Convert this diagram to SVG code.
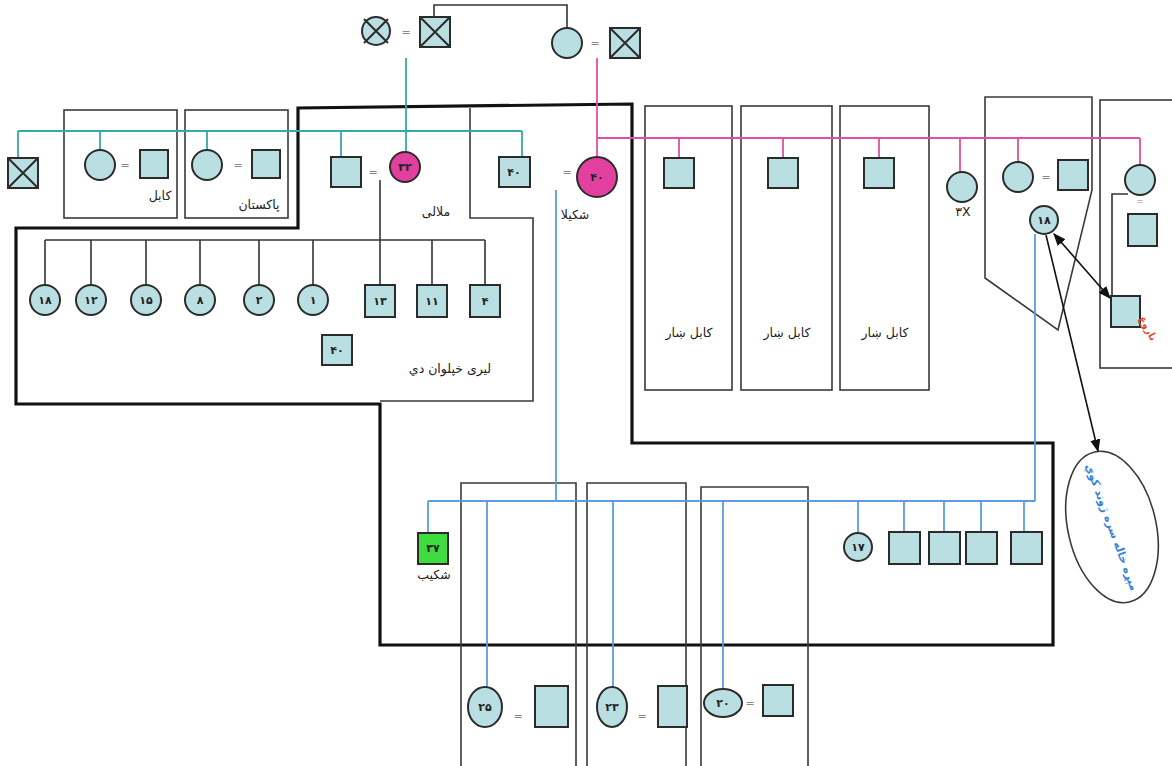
<svg xmlns="http://www.w3.org/2000/svg" width="1172" height="766" viewBox="0 0 1172 766">
<style>
.p{fill:#b9dfe3;stroke:#2b2b2b;stroke-width:2}
.pk{fill:#e2409f;stroke:#2b2b2b;stroke-width:2}
.gr{fill:#3fdc3f;stroke:#2b2b2b;stroke-width:2}
.x{stroke:#2b2b2b;stroke-width:2;fill:none}
.box{fill:none;stroke:#3a3a3a;stroke-width:1.6}
.heavy{fill:none;stroke:#111;stroke-width:3.2}
.teal{stroke:#35a9ad;stroke-width:1.8;fill:none}
.pink{stroke:#e0509f;stroke-width:1.8;fill:none}
.blue{stroke:#5b9de0;stroke-width:1.8;fill:none}
.dk{stroke:#333;stroke-width:1.6;fill:none}
.t{font-family:"DejaVu Sans",sans-serif;font-size:12.5px;fill:#222;text-anchor:middle}
.n{font-family:"DejaVu Sans",sans-serif;font-size:11px;fill:#222;text-anchor:middle;font-weight:bold}
.eq{font-family:"DejaVu Sans",sans-serif;font-size:11px;fill:#888;text-anchor:middle}
</style>
<defs>
<marker id="ah" viewBox="0 0 10 10" refX="9" refY="5" markerWidth="8" markerHeight="8" orient="auto-start-reverse"><path d="M0,1 L10,5 L0,9 z" fill="#111"/></marker>
</defs>

<g id="boundaries">
<polygon class="heavy" points="298,228 298,108 632,104 632,443 1053,443 1053,645 380,645 380,404 16,404 16,228"/>
<polyline class="box" points="470,108 470,218 533,218 533,401 380,401"/>
<rect class="box" x="64" y="110" width="113" height="108"/>
<rect class="box" x="185" y="110" width="103" height="108"/>
<rect class="box" x="645" y="106" width="87" height="284"/>
<rect class="box" x="741" y="106" width="91" height="284"/>
<rect class="box" x="840" y="106" width="89" height="284"/>
<polygon class="box" points="985,97 1092,97 1092,190 1058,330 985,278"/>
<rect class="box" x="1100" y="100" width="80" height="268"/>
<polyline class="box" points="461,766 461,483 576,483 576,766"/>
<polyline class="box" points="587,766 587,483 686,483 686,766"/>
<polyline class="box" points="701,766 701,487 808,487 808,766"/>
<ellipse class="box" cx="1112" cy="527" rx="44" ry="77" transform="rotate(-13 1112 527)"/>
</g>

<g id="connectors">
<polyline class="dk" points="434,17 434,5 567,5 567,28"/>
<line class="teal" x1="406" y1="58" x2="406" y2="152"/>
<line class="teal" x1="18" y1="131" x2="522" y2="131"/>
<line class="teal" x1="18" y1="131" x2="18" y2="158"/>
<line class="teal" x1="100" y1="131" x2="100" y2="150"/>
<line class="teal" x1="207" y1="131" x2="207" y2="150"/>
<line class="teal" x1="341" y1="131" x2="341" y2="157"/>
<line class="teal" x1="522" y1="131" x2="522" y2="157"/>
<line class="pink" x1="597" y1="58" x2="597" y2="157"/>
<line class="pink" x1="597" y1="138" x2="1140" y2="138"/>
<line class="pink" x1="679" y1="138" x2="679" y2="158"/>
<line class="pink" x1="783" y1="138" x2="783" y2="158"/>
<line class="pink" x1="879" y1="138" x2="879" y2="158"/>
<line class="pink" x1="960" y1="138" x2="960" y2="172"/>
<line class="pink" x1="1018" y1="138" x2="1018" y2="162"/>
<line class="pink" x1="1140" y1="138" x2="1140" y2="165"/>
<line class="dk" x1="380" y1="180" x2="380" y2="285"/>
<line class="dk" x1="45" y1="240" x2="485" y2="240"/>
<line class="dk" x1="45" y1="240" x2="45" y2="285"/>
<line class="dk" x1="91" y1="240" x2="91" y2="285"/>
<line class="dk" x1="146" y1="240" x2="146" y2="285"/>
<line class="dk" x1="200" y1="240" x2="200" y2="285"/>
<line class="dk" x1="259" y1="240" x2="259" y2="285"/>
<line class="dk" x1="313" y1="240" x2="313" y2="285"/>
<line class="dk" x1="432" y1="240" x2="432" y2="285"/>
<line class="dk" x1="485" y1="240" x2="485" y2="285"/>
<polyline class="dk" points="1128,194 1112,194 1112,296"/>
<line class="blue" x1="556" y1="190" x2="556" y2="501"/>
<line class="blue" x1="1035" y1="234" x2="1035" y2="501"/>
<line class="blue" x1="428" y1="501" x2="1035" y2="501"/>
<line class="blue" x1="428" y1="501" x2="428" y2="533"/>
<line class="blue" x1="487" y1="501" x2="487" y2="687"/>
<line class="blue" x1="613" y1="501" x2="613" y2="687"/>
<line class="blue" x1="723" y1="501" x2="723" y2="689"/>
<line class="blue" x1="858" y1="501" x2="858" y2="533"/>
<line class="blue" x1="904" y1="501" x2="904" y2="532"/>
<line class="blue" x1="944" y1="501" x2="944" y2="532"/>
<line class="blue" x1="981" y1="501" x2="981" y2="532"/>
<line class="blue" x1="1024" y1="501" x2="1024" y2="532"/>
<line class="dk" x1="1110" y1="298" x2="1054" y2="234" marker-start="url(#ah)" marker-end="url(#ah)" style="stroke:#111"/>
<line class="dk" x1="1046" y1="235" x2="1098" y2="451" marker-end="url(#ah)" style="stroke:#111"/>
</g>

<g id="gen1">
<g id="n-gf1"><circle class="p" cx="376" cy="31" r="14"/><path class="x" d="M364,19 L388,43 M388,19 L364,43"/></g>
<text class="eq" x="406" y="36">=</text>
<g id="n-gm1"><rect class="p" x="420" y="17" width="30" height="30"/><path class="x" d="M420,17 L450,47 M450,17 L420,47"/></g>
<g id="n-gf2"><circle class="p" cx="567" cy="43" r="15"/></g>
<text class="eq" x="595" y="47">=</text>
<g id="n-gm2"><rect class="p" x="610" y="28" width="30" height="30"/><path class="x" d="M610,28 L640,58 M640,28 L610,58"/></g>
</g>

<g id="gen2">
<g id="n-x1"><rect class="p" x="8" y="158" width="30" height="30"/><path class="x" d="M8,158 L38,188 M38,158 L8,188"/></g>
<g id="n-kabul"><circle class="p" cx="100" cy="165" r="15"/><text class="eq" x="125" y="169">=</text><rect class="p" x="140" y="150" width="28" height="28"/><text class="t" x="160" y="200">کابل</text></g>
<g id="n-pak"><circle class="p" cx="207" cy="165" r="15"/><text class="eq" x="238" y="169">=</text><rect class="p" x="252" y="150" width="28" height="28"/><text class="t" x="259" y="209">پاکستان</text></g>
<g id="n-malalai"><rect class="p" x="331" y="157" width="30" height="30"/><text class="eq" x="373" y="176">=</text><circle class="pk" cx="405" cy="167" r="15"/><text class="n" x="405" y="171">۳۲</text><text class="t" x="436" y="216">ملالی</text></g>
<g id="n-shakila"><rect class="p" x="499" y="157" width="31" height="30"/><text class="n" x="514" y="176">۴۰</text><text class="eq" x="567" y="176">=</text><circle class="pk" cx="597" cy="177" r="20"/><text class="n" x="597" y="181">۴۰</text><text class="t" x="575" y="219">شکیلا</text></g>
<g id="n-kb1"><rect class="p" x="664" y="158" width="30" height="30"/><text class="t" x="689" y="337">کابل ښار</text></g>
<g id="n-kb2"><rect class="p" x="768" y="158" width="30" height="30"/><text class="t" x="787" y="337">کابل ښار</text></g>
<g id="n-kb3"><rect class="p" x="864" y="158" width="30" height="30"/><text class="t" x="885" y="337">کابل ښار</text></g>
<g id="n-3x"><circle class="p" cx="962" cy="187" r="15"/><text class="t" x="963" y="216">۳X</text></g>
<g id="n-couple4"><circle class="p" cx="1018" cy="177" r="15"/><text class="eq" x="1046" y="181">=</text><rect class="p" x="1058" y="160" width="30" height="30"/></g>
<g id="n-18r"><circle class="p" cx="1044" cy="220" r="14"/><text class="n" x="1044" y="224">۱۸</text></g>
<g id="n-right"><circle class="p" cx="1140" cy="180" r="15"/><text class="eq" x="1140" y="204" style="font-size:9px">=</text><rect class="p" x="1128" y="214" width="29" height="32"/></g>
<g id="n-sick"><rect class="p" x="1111" y="296" width="29" height="31"/><text class="t" x="1145" y="330" transform="rotate(62 1145 330)" style="fill:#e04a2a;font-size:10px;font-weight:bold">ناروغ</text></g>
<g id="n-note"><text class="t" x="1112" y="531" transform="rotate(70 1112 527)" style="fill:#3a82d6;font-size:11px;font-weight:bold">مېړه خاله سره ژوند کوي</text></g>
</g>

<g id="gen3">
<g id="k1"><circle class="p" cx="45" cy="300" r="15"/><text class="n" x="45" y="304">۱۸</text></g>
<g id="k2"><circle class="p" cx="91" cy="300" r="15"/><text class="n" x="91" y="304">۱۲</text></g>
<g id="k3"><circle class="p" cx="146" cy="300" r="15"/><text class="n" x="146" y="304">۱۵</text></g>
<g id="k4"><circle class="p" cx="200" cy="300" r="15"/><text class="n" x="200" y="304">۸</text></g>
<g id="k5"><circle class="p" cx="259" cy="300" r="15"/><text class="n" x="259" y="304">۲</text></g>
<g id="k6"><circle class="p" cx="313" cy="300" r="15"/><text class="n" x="313" y="304">۱</text></g>
<g id="k7"><rect class="p" x="365" y="285" width="30" height="32"/><text class="n" x="380" y="305">۱۳</text></g>
<g id="k8"><rect class="p" x="417" y="285" width="30" height="32"/><text class="n" x="432" y="305">۱۱</text></g>
<g id="k9"><rect class="p" x="470" y="285" width="30" height="32"/><text class="n" x="485" y="305">۴</text></g>
<g id="n-distant"><rect class="p" x="322" y="335" width="30" height="30"/><text class="n" x="337" y="354">۴۰</text><text class="t" x="450" y="373">لیری خپلوان دي</text></g>
<g id="n-shakib"><rect class="gr" x="418" y="533" width="30" height="31"/><text class="n" x="433" y="552">۳۷</text><text class="t" x="434" y="579">شکیب</text></g>
<g id="n-17"><circle class="p" cx="858" cy="547" r="14"/><text class="n" x="858" y="551">۱۷</text></g>
<g id="s1"><rect class="p" x="889" y="532" width="31" height="32"/></g>
<g id="s2"><rect class="p" x="929" y="532" width="31" height="32"/></g>
<g id="s3"><rect class="p" x="966" y="532" width="31" height="32"/></g>
<g id="s4"><rect class="p" x="1011" y="532" width="31" height="32"/></g>
<g id="c25"><ellipse class="p" cx="485" cy="707" rx="17" ry="20"/><text class="n" x="485" y="711">۲۵</text><text class="eq" x="518" y="720">=</text><rect class="p" x="535" y="686" width="33" height="41"/></g>
<g id="c23"><ellipse class="p" cx="612" cy="707" rx="15" ry="20"/><text class="n" x="612" y="711">۲۳</text><text class="eq" x="642" y="720">=</text><rect class="p" x="658" y="686" width="29" height="41"/></g>
<g id="c20"><ellipse class="p" cx="723" cy="703" rx="19" ry="14"/><text class="n" x="723" y="707">۲۰</text><text class="eq" x="750" y="707">=</text><rect class="p" x="763" y="685" width="30" height="31"/></g>
</g>
</svg>
